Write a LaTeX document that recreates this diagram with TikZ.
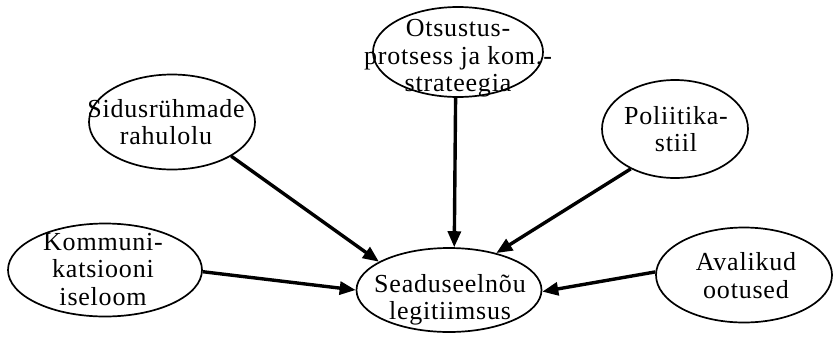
\documentclass[tikz,border=0pt]{standalone}
\usepackage{fontspec}
\setmainfont{Liberation Serif}[LetterSpace=3]
\usetikzlibrary{arrows.meta,shapes.geometric}
\begin{document}
\begin{tikzpicture}[x=1pt,y=-1pt,
  ell/.style={draw, ellipse, line width=1.7pt, inner sep=0pt},
  txt/.style={align=center, inner sep=0pt, font={\fontsize{26}{27.5}\selectfont}},
  arr/.style={line width=3.4pt, -{Triangle[length=16pt,width=13pt]}}]
\useasboundingbox (0,0) rectangle (834,343);
% ellipses
\node[ell, minimum width=170pt, minimum height=90pt] (top) at (458,52) {};
\node[ell, minimum width=166pt, minimum height=95pt] (sid) at (172,122) {};
\node[ell, minimum width=146pt, minimum height=98pt] (pol) at (675,129) {};
\node[ell, minimum width=194pt, minimum height=93pt] (kom) at (105,270) {};
\node[ell, minimum width=185pt, minimum height=84pt] (cen) at (449,290) {};
\node[ell, minimum width=176pt, minimum height=95pt] (ava) at (744,275) {};
% texts
\node[txt] (topt) at (458,58.5) {Otsustus-\\protsess ja kom.-\\strateegia};
\node[txt] (sidt) at (166,122) {Sidusrühmade\\rahulolu};
\node[txt] (polt) at (676,129) {Poliitika-\\stiil};
\node[txt] (komt) at (103,269.5) {Kommuni-\\katsiooni\\iseloom};
\node[txt] (cent) at (450,300) {Seaduseelnõu\\legitiimsus};
\node[txt] (avat) at (746,275.5) {Avalikud\\ootused};
% arrows
\draw[arr] (sid.-30.5) -- (cen.158.7);
\draw[arr] (top.-93.8) -- (cen.83.8);
\draw[arr] (pol.-138.9) -- (cen.38.9);
\draw[arr] (ava.178.7) -- (cen.-1.2);
\draw[arr] (kom.-1.2) -- (cen.180.6);
\end{tikzpicture}
\end{document}
